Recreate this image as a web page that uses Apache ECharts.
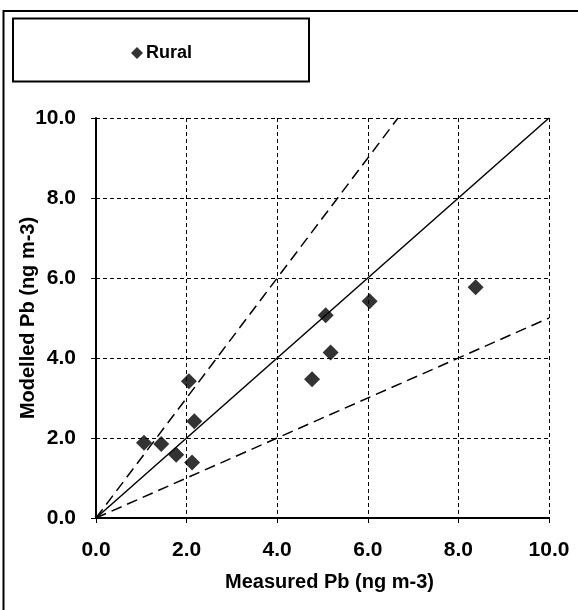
<!DOCTYPE html>
<html>
<head>
<meta charset="utf-8">
<script src="https://cdn.jsdelivr.net/npm/echarts@6/dist/echarts.min.js"></script>
<style>html,body{margin:0;padding:0;background:#fff}#c{width:578px;height:610px}</style>
</head>
<body>
<div id="c"></div>
<script>
// Measured vs modelled Pb (ng m-3), rural sites
var measured = [1.06, 1.44, 1.77, 2.12, 2.05, 2.17, 4.77, 5.18, 5.07, 6.04, 8.38];
var modelled = [1.88, 1.85, 1.58, 1.39, 3.42, 2.42, 3.47, 4.14, 5.07, 5.42, 5.77];
// reference lines: 1:1, upper (x1.5) and lower (x0.5) bounds
var lineOneToOne = [[0, 0], [10, 10]];
var lineUpper = [[0, 0], [6.667, 10]];
var lineLower = [[0, 0], [10, 5]];
var axisMin = 0, axisMax = 10, axisStep = 2;

var pts = measured.map(function (x, i) { return [x, modelled[i]]; });
var FONT = '"Liberation Sans", Arial, sans-serif';
var chart = echarts.init(document.getElementById('c'), null, {renderer: 'canvas'});
var axisCommon = {
  type: 'value', min: axisMin, max: axisMax, interval: axisStep,
  axisLine: {show: true, onZero: false, lineStyle: {color: '#000', width: 2}},
  axisTick: {show: true, inside: false, length: 5, lineStyle: {color: '#000', width: 1}},
  splitLine: {show: true, lineStyle: {color: '#000', width: 1, type: [4, 3]}},
  axisLabel: {color: '#000', fontFamily: FONT, fontWeight: 'bold', fontSize: 21,
    formatter: function (v) { return v.toFixed(1); }},
  nameLocation: 'middle',
  nameMoveOverlap: false,
  nameTextStyle: {color: '#000', fontFamily: FONT, fontWeight: 'bold', fontSize: 20}
};
chart.setOption({
  animation: false,
  backgroundColor: '#fff',
  grid: {left: 96, top: 118, right: 29, bottom: 92, containLabel: false, outerBoundsMode: 'none'},
  xAxis: Object.assign({}, axisCommon, {name: 'Measured Pb (ng m-3)', nameGap: 54,
    nameTextStyle: Object.assign({}, axisCommon.nameTextStyle, {padding: [0, 0, 0, 14]}),
    axisLabel: Object.assign({}, axisCommon.axisLabel, {margin: 22})}),
  yAxis: Object.assign({}, axisCommon, {name: 'Modelled Pb (ng m-3)', nameGap: 58,
    axisLabel: Object.assign({}, axisCommon.axisLabel, {margin: 20})}),
  legend: {
    data: [{name: 'Rural', icon: 'diamond'}],
    left: 126, top: 39, itemWidth: 12, itemHeight: 12, itemGap: 4,
    textStyle: {color: '#000', fontFamily: FONT, fontWeight: 'bold', fontSize: 18, padding: [0, 0, 0, -2]}
  },
  graphic: [
    {type: 'rect', silent: true, z: -1, shape: {x: 3.5, y: 11, width: 620, height: 640},
      style: {fill: null, stroke: '#000', lineWidth: 2}},
    {type: 'rect', silent: true, shape: {x: 13, y: 18.5, width: 296, height: 63},
      style: {fill: null, stroke: '#000', lineWidth: 2}}
  ],
  series: [
    {name: 'one', type: 'line', data: lineOneToOne, symbol: 'none', silent: true,
      lineStyle: {color: '#000', width: 1.5, type: 'solid'}, z: 3},
    {name: 'upper', type: 'line', data: lineUpper, symbol: 'none', silent: true,
      lineStyle: {color: '#000', width: 1.5, type: [11, 6]}, z: 3},
    {name: 'lower', type: 'line', data: lineLower, symbol: 'none', silent: true,
      lineStyle: {color: '#000', width: 1.5, type: [11, 6]}, z: 3},
    {name: 'Rural', type: 'scatter', data: pts, symbol: 'diamond', symbolSize: 16,
      itemStyle: {color: '#000'}, z: 4}
  ]
});
</script>
</body>
</html>
